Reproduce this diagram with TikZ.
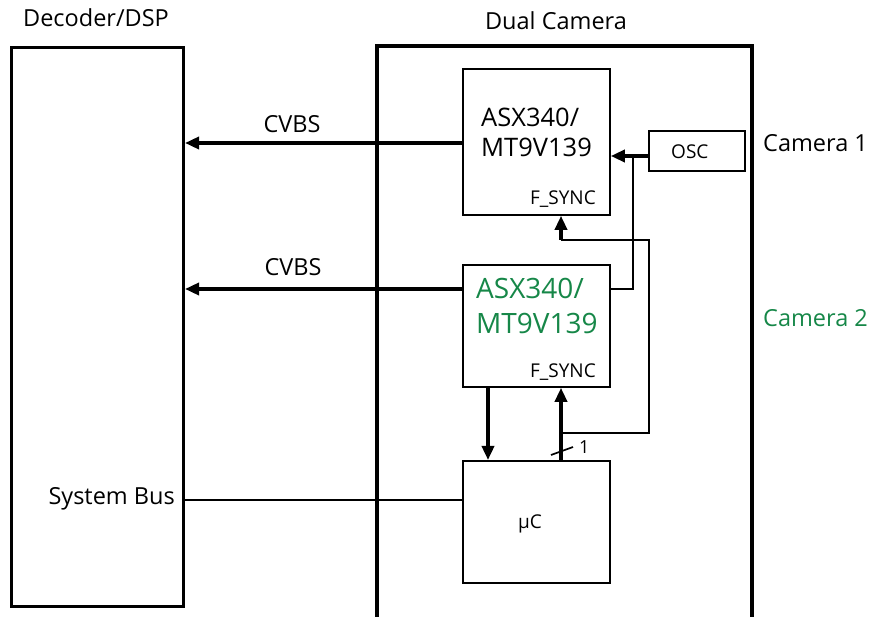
\documentclass[tikz,border=0pt]{standalone}
\usepackage{fontspec}
\setmainfont{Open Sans}
\usetikzlibrary{arrows.meta}
\definecolor{camgreen}{RGB}{22,135,72}
\begin{document}
\begin{tikzpicture}[x=1pt,y=-1pt,
  blk/.style={draw, line width=1.8pt, inner sep=0pt, anchor=north west},
  bigblk/.style={draw, line width=3pt, inner sep=0pt, anchor=north west},
  lbl/.style={inner sep=0pt, font=\fontsize{23.5}{28}\selectfont},
  chip/.style={inner sep=0pt, anchor=base west, align=left, font=\fontsize{25.5}{30}\selectfont},
  chipg/.style={inner sep=0pt, anchor=base west, font=\fontsize{28}{35}\selectfont, text=camgreen},
  small/.style={inner sep=0pt, font=\fontsize{19}{22}\selectfont},
  arr/.style={line width=3.4pt, -{Triangle[length=14pt,width=12pt]}},
  thin/.style={line width=1.7pt},
  thickl/.style={line width=3.4pt}]
\useasboundingbox (0,0) rectangle (871,617);
% Decoder box
\node[bigblk, minimum width=172pt, minimum height=559pt] (dec) at (10,46) {};
\node[lbl, anchor=base] (dectxt) at (96,27) {Decoder/DSP};
% Dual camera frame (open at bottom)
\coordinate (dcbl) at (377,620);
\coordinate (dctl) at (377,46);
\coordinate (dctr) at (752,46);
\coordinate (dcbr) at (752,620);
\draw[line width=3.2pt] (dcbl) -- (dctl) -- (dctr) -- (dcbr);
\node[lbl, anchor=base] (dctxt) at (556,30) {Dual Camera};
% Camera blocks
\node[blk, minimum width=147pt, minimum height=146pt] (cam1) at (462,68) {};
\node[blk, minimum width=147pt, minimum height=122pt] (cam2) at (462,264) {};
\node[blk, minimum width=147pt, minimum height=122pt] (uc) at (462,460) {};
\node[blk, minimum width=96pt, minimum height=40pt] (osc) at (648,130) {};
% texts in blocks
\node[chip] (c1a) at (481,127) {ASX340/};
\node[chip] (c1b) at (481,157) {MT9V139};
\node[chipg] (c2a) at (476,299) {ASX340/};
\node[chipg] (c2b) at (476,334) {MT9V139};
\node[small, anchor=base east] (fs1) at (596,205) {F\_SYNC};
\node[small, anchor=base east] (fs2) at (596,378) {F\_SYNC};
\node[small, anchor=base west] (osctxt) at (671,159) {OSC};
\node[small, anchor=base west] (uctxt) at (518,529) {μC};
% side labels
\node[lbl, anchor=base west] (cam1lbl) at (763,152) {Camera 1};
\node[lbl, anchor=base west, text=camgreen] (cam2lbl) at (763,327) {Camera 2};
% CVBS
\draw[arr] (cam1.west |- 0,143) -- (dec.east |- 0,143);
\node[lbl, anchor=base] (cvbs1) at (292,133) {CVBS};
\draw[arr] (cam2.west |- 0,289) -- (dec.east |- 0,289);
\node[lbl, anchor=base] (cvbs2) at (293,276) {CVBS};
% OSC
\draw[arr] (osc.west |- 0,156) -- (cam1.east |- 0,156);
\coordinate (j1) at (633,156);
\coordinate (j2) at (633,289);
\draw[thin] (cam2.east |- j2) -- (j2) -- (j1);
% F_SYNC loop
\coordinate (f1) at (561,433);
\coordinate (f2) at (649,433);
\coordinate (f3) at (649,240);
\coordinate (f4) at (561,240);
\draw[thin] (f1) -- (f2) -- (f3) -- (f4);
\draw[arr] (f4) -- (cam1.south -| f4);
% uC <-> cam2
\draw[arr] (uc.north -| f1) -- (cam2.south -| f1);
\draw[arr] (cam2.south -| 488,0) -- (uc.north -| 488,0);
% bus width mark
\coordinate (s1) at (551,455);
\coordinate (s2) at (573,447);
\draw[thin] (s1) -- (s2);
\node[small, anchor=base west, font=\fontsize{18}{21}\selectfont] (one) at (579,454) {1};
% system bus
\draw[thin] (dec.east |- 0,500) -- (uc.west |- 0,500);
\node[lbl, anchor=base east] (sbus) at (175,505) {System Bus};
\end{tikzpicture}
\end{document}
